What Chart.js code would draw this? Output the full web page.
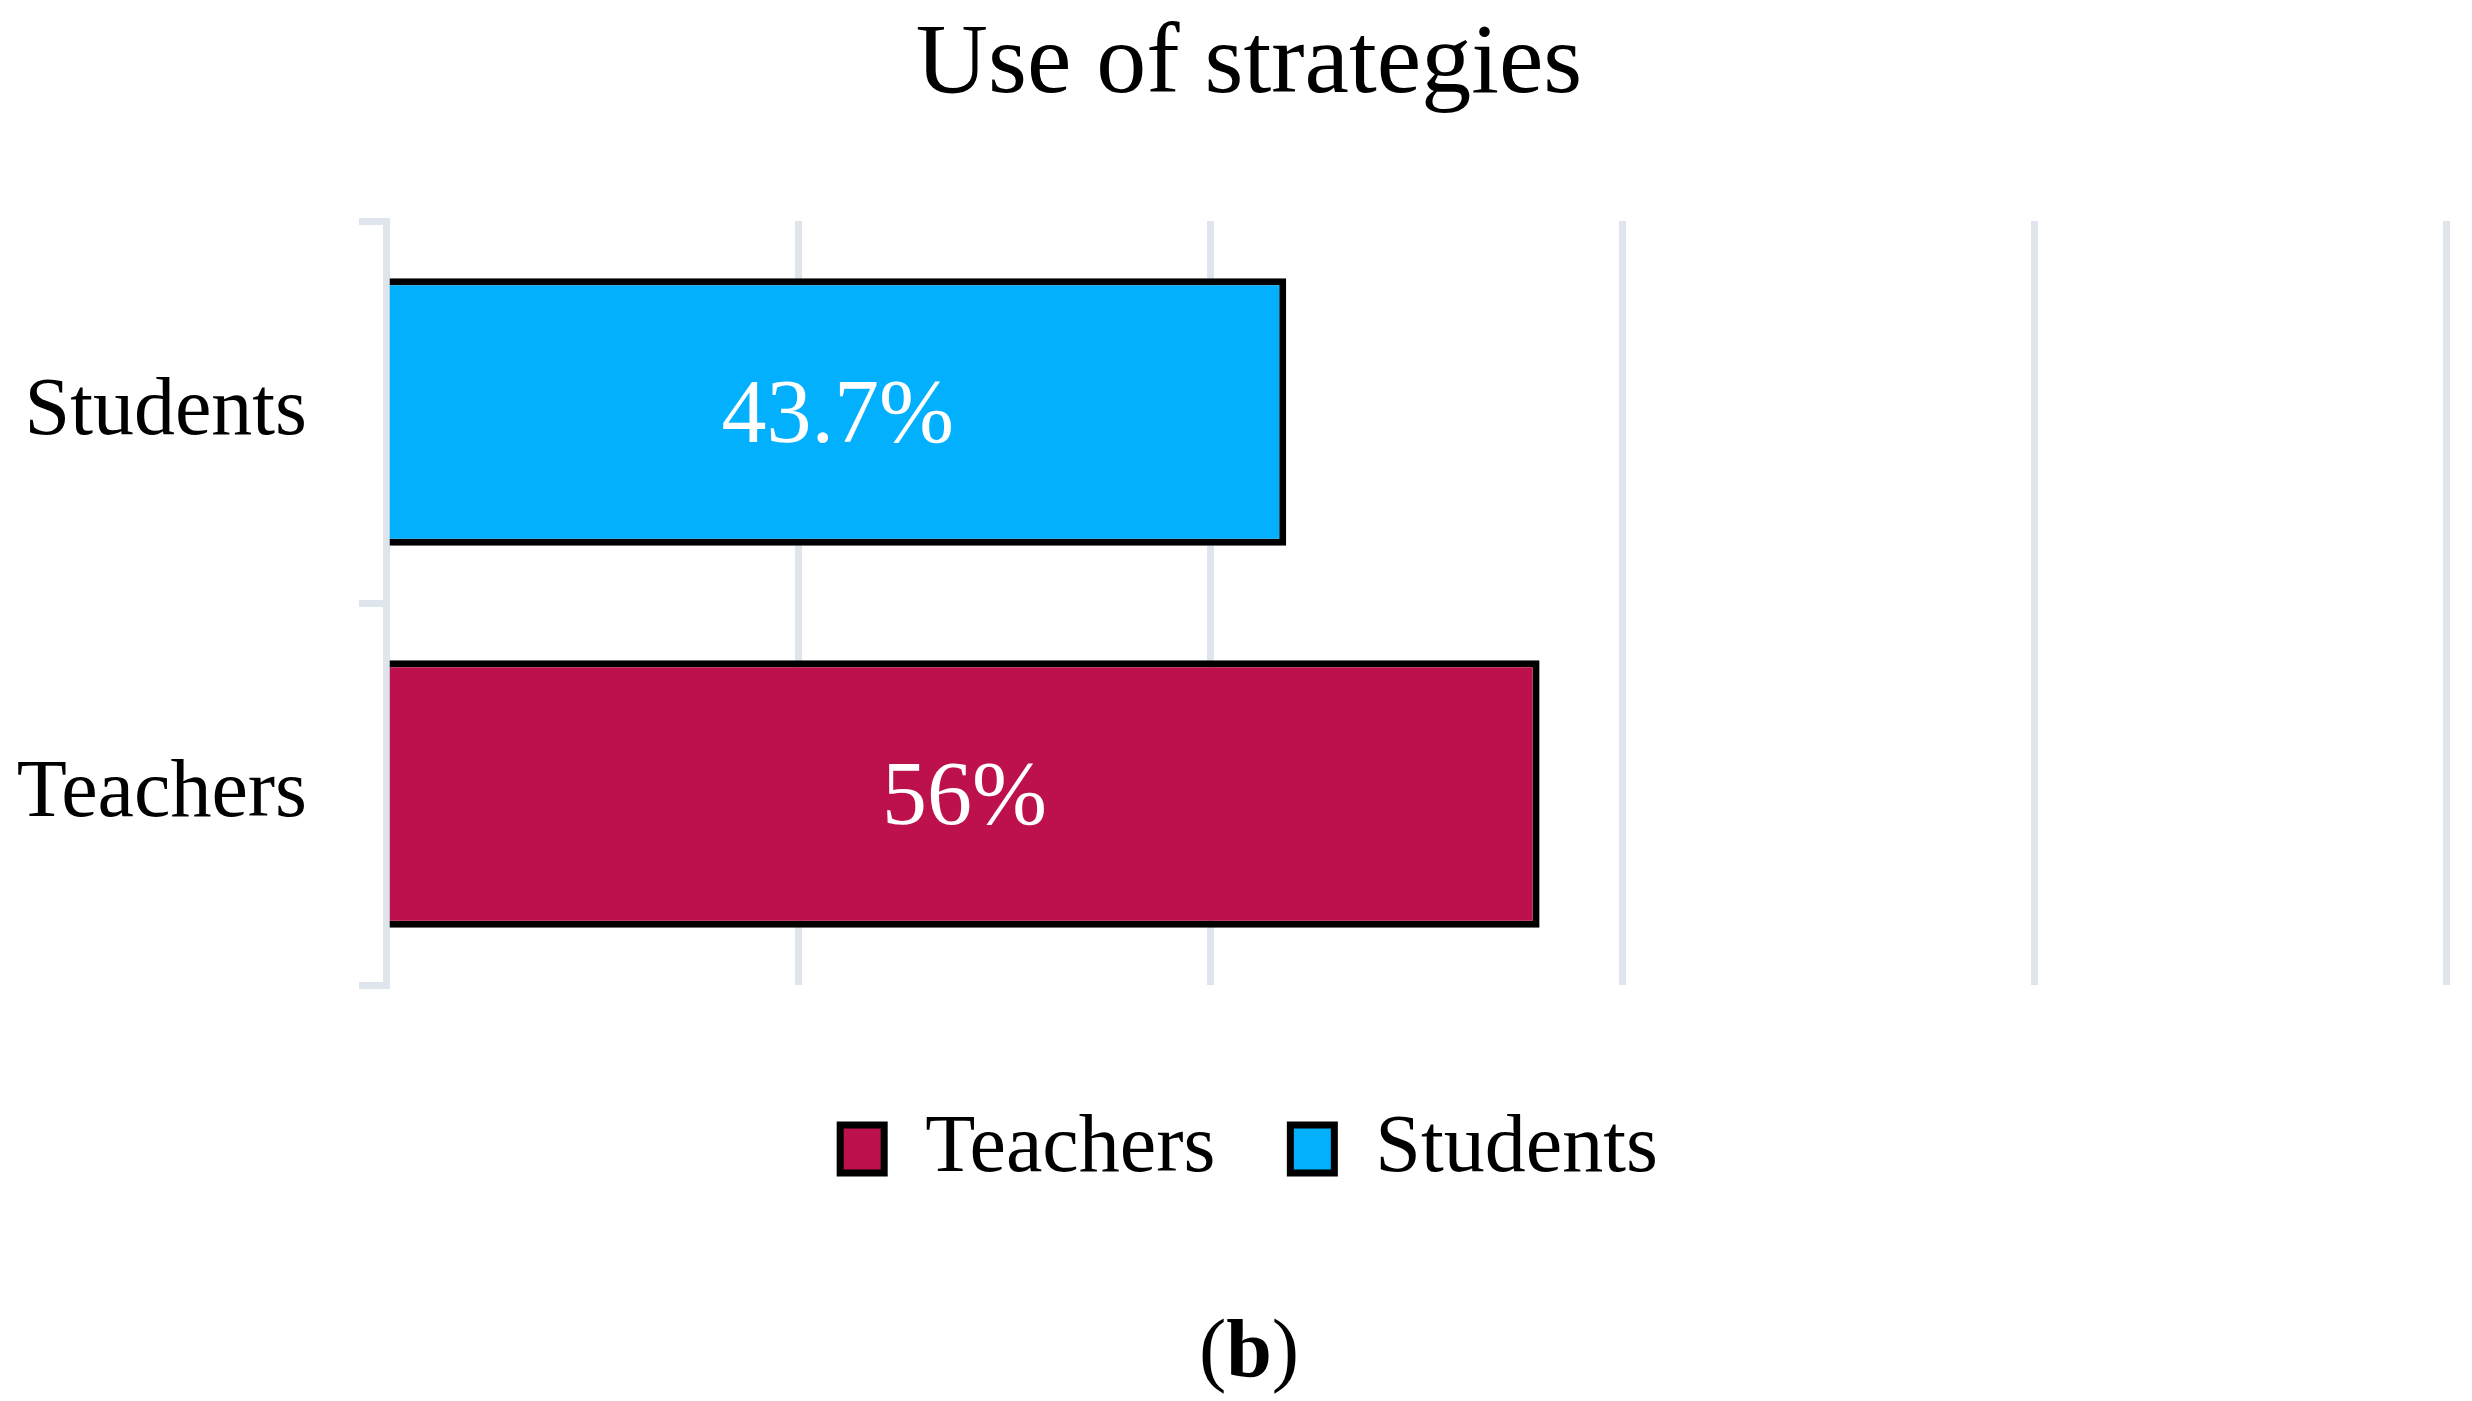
<!DOCTYPE html>
<html>
<head>
<meta charset="utf-8">
<title>Use of strategies</title>
<script src="https://cdn.jsdelivr.net/npm/chart.js@4.4.0/dist/chart.umd.min.js"></script>
<style>
    body { margin: 0; background: #fff; }
    #wrap { position: relative; width: 2472px; height: 1401px; }
    #caption {
        position: absolute; left: 13px; width: 2472px; top: 1308px;
        text-align: center; font-family: 'Liberation Serif', serif; font-size: 82px; line-height: 1; color: #000;
    }
</style>
</head>
<body>
<div id="wrap">
    <canvas id="myChart"></canvas>
    <div id="caption">(<b>b</b>)</div>
</div>
<script>
var categories = ['Students', 'Teachers'];
var teachers = [null, 56];
var students = [43.7, null];
var xTicks = [0, 20, 40, 60, 80, 100];

var gridColor = '#dee5ed';

// white value labels in the middle of each bar
var valueLabels = {
    id: 'valueLabels',
    afterDatasetsDraw: function(chart) {
        var ctx = chart.ctx;
        ctx.save();
        ctx.fillStyle = '#fff';
        ctx.font = '90px "Liberation Serif"';
        ctx.textAlign = 'center';
        ctx.textBaseline = 'middle';
        chart.data.datasets.forEach(function(ds, i) {
            var meta = chart.getDatasetMeta(i);
            meta.data.forEach(function(bar, j) {
                if (ds.data[j] == null) return;
                var p = bar.getCenterPoint();
                ctx.fillText(ds.data[j] + '%', p.x, p.y + 6);
            });
        });
        ctx.restore();
    }
};

// title and legend sit a bit right of the canvas centre in the original
var centreShift = {
    id: 'centreShift',
    afterLayout: function(chart) {
        if (chart.titleBlock) chart.titleBlock.left += 52;
        if (chart.legend) chart.legend.left += 52;
    }
};

Chart.defaults.font.family = '"Liberation Serif", serif';
Chart.defaults.color = '#000';

var ctx = document.getElementById('myChart').getContext('2d');
new Chart(ctx, {
    type: 'bar',
    data: {
        labels: categories,
        datasets: [{
            label: 'Teachers',
            data: teachers,
            backgroundColor: '#bc114d',
            borderColor: '#000',
            borderWidth: 7
        }, {
            label: 'Students',
            data: students,
            backgroundColor: '#02b0fe',
            borderColor: '#000',
            borderWidth: 7
        }]
    },
    options: {
        indexAxis: 'y',
        responsive: true,
        maintainAspectRatio: false,
        animation: false,
        layout: { padding: { top: 0, right: 26, bottom: 201, left: 0 } },
        datasets: {
            bar: { grouped: false, categoryPercentage: 1, barPercentage: 0.7 }
        },
        scales: {
            x: {
                min: xTicks[0],
                max: xTicks[xTicks.length - 1],
                ticks: { display: false, stepSize: xTicks[1] - xTicks[0] },
                grid: { color: gridColor, lineWidth: 7, drawTicks: false },
                border: { display: false },
                afterFit: function(scale) { scale.height = 48; }
            },
            y: {
                ticks: { font: { size: 82 }, padding: 52, color: '#000' },
                grid: { drawOnChartArea: false, drawTicks: true, tickLength: 27, color: gridColor, lineWidth: 7 },
                border: { display: true, color: gridColor, width: 7 },
                afterFit: function(scale) { scale.width = 386; }
            }
        },
        plugins: {
            title: {
                display: true,
                text: 'Use of strategies',
                color: '#000',
                font: { size: 100, weight: 'normal', lineHeight: 1.1 },
                padding: { top: 11, bottom: 100 }
            },
            legend: {
                position: 'bottom',
                labels: { boxWidth: 44, boxHeight: 48, padding: 75, font: { size: 82 }, color: '#000' }
            },
            tooltip: { enabled: false }
        }
    },
    plugins: [valueLabels, centreShift]
});
</script>
</body>
</html>
